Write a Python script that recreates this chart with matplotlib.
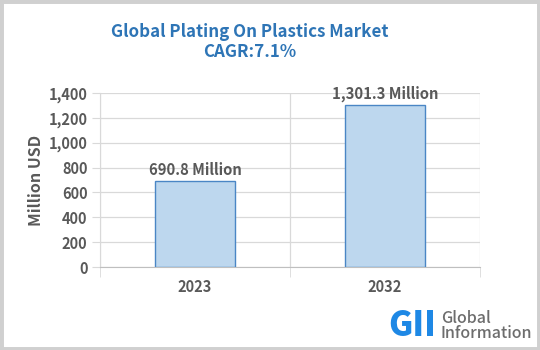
import matplotlib.pyplot as plt
from matplotlib.patches import Rectangle
from matplotlib.ticker import FuncFormatter

plt.rcParams['font.family'] = ['Noto Sans CJK JP', 'DejaVu Sans']

# market size per year
years = ["2023", "2032"]
values = [690.8, 1301.3]
value_labels = ["690.8 Million", "1,301.3 Million"]

TITLE = "Global Plating On Plastics Market\nCAGR:7.1%"
TEXT_GRAY = "#595959"
GRID = "#d9d9d9"

fig = plt.figure(figsize=(5.4, 3.5), dpi=100)
fig.patch.set_facecolor("white")

# thin gray frame around the whole image
fig.patches.append(Rectangle((0, 0), 1, 1, transform=fig.transFigure,
                             fill=False, edgecolor="#d0d0d0", linewidth=5))

ax = fig.add_axes([100 / 540, 1 - 267 / 350, 380 / 540, 174 / 350])

x = list(range(len(years)))
ax.bar(x, values, width=0.42, color="#bdd7ee", edgecolor="#4a86c5",
       linewidth=1.0, zorder=3)

for xi, v, lab in zip(x, values, value_labels):
    ax.text(xi, v + 25, lab, ha="center", va="bottom", fontsize=10.7,
            fontweight="bold", color=TEXT_GRAY, zorder=4)

ax.set_xlim(-0.5, len(years) - 0.5)
ax.set_ylim(0, 1400)
ax.set_yticks(range(0, 1401, 200))
ax.yaxis.set_major_formatter(FuncFormatter(lambda v, p: f"{int(v):,}"))
ax.set_xticks(x)
ax.set_xticklabels(years)
ax.set_xticks([i - 0.5 for i in range(len(years) + 1)], minor=True)

ax.grid(axis="y", which="major", color=GRID, linewidth=0.9, zorder=0)
ax.grid(axis="x", which="minor", color=GRID, linewidth=0.9, zorder=0)

for s in ["top", "right"]:
    ax.spines[s].set_visible(False)
ax.spines["left"].set_color(GRID)
ax.spines["bottom"].set_color("#bfbfbf")

ax.tick_params(axis="y", which="major", length=6, color=GRID, pad=3,
               labelsize=10.5, labelcolor=TEXT_GRAY)
ax.tick_params(axis="x", which="major", length=0, pad=9,
               labelsize=10.5, labelcolor=TEXT_GRAY)
ax.tick_params(axis="x", which="minor", length=7, color=GRID)
for lab in ax.get_xticklabels() + ax.get_yticklabels():
    lab.set_fontweight("bold")

ax.set_ylabel("Million USD", fontsize=11.5, fontweight="bold",
              color=TEXT_GRAY, labelpad=3)

fig.text(250 / 540, 1 - 42 / 350, TITLE, ha="center", va="center",
         fontsize=12.2, fontweight="bold", color="#2e75b6", linespacing=1.1)

# company mark in the lower right corner
fig.text(388 / 540, 1 - 326 / 350, "GII", ha="left", va="center",
         fontsize=24, fontweight="black", color="#1e88e5")
fig.text(441 / 540, 1 - 326 / 350, "Global\nInformation", ha="left",
         va="center", fontsize=11.5, fontweight="medium", color="#6d6d6d",
         linespacing=0.9)

fig.savefig("out.png", dpi=100)
